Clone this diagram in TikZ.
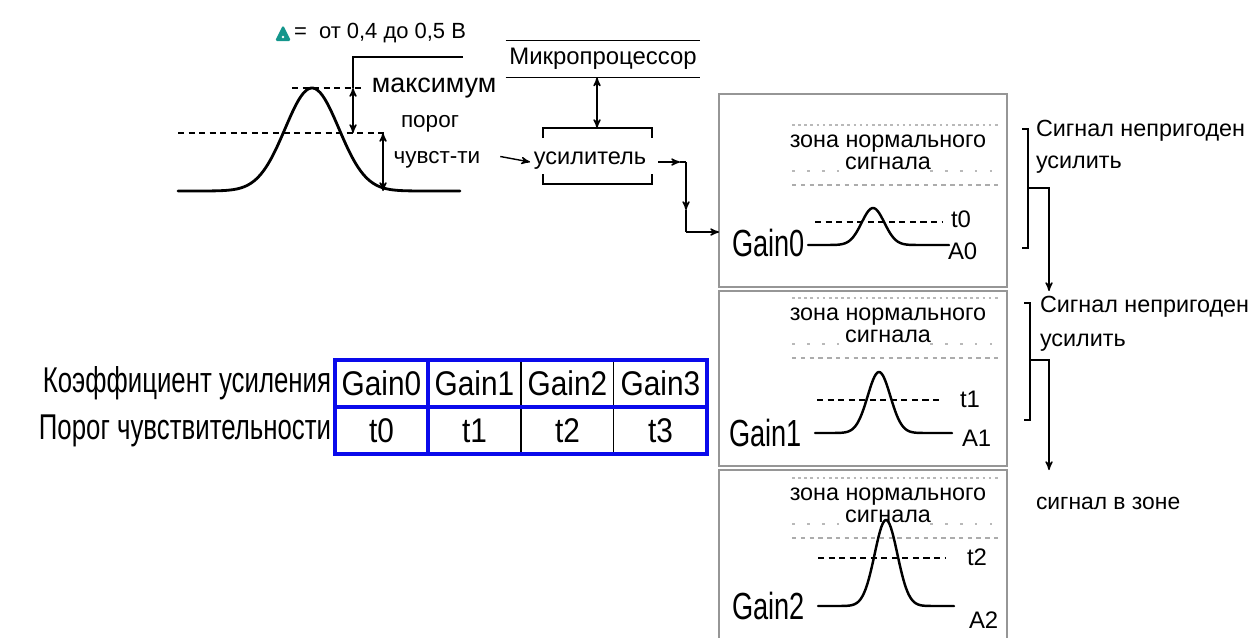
\documentclass[tikz,border=0pt]{standalone}
\usepackage{fontspec}
\setmainfont{Liberation Sans}
\newfontfamily\narrowfont{Liberation Sans}[FakeStretch=0.72]
\newfontfamily\cellfont{Liberation Sans}[FakeStretch=0.87]
\usetikzlibrary{arrows,positioning}

\definecolor{deltagreen}{RGB}{20,150,140}
\definecolor{framegray}{RGB}{150,150,150}
\definecolor{tabblue}{RGB}{10,10,235}
\newcommand\fsz[1]{\fontsize{#1}{1.15\dimexpr#1\relax}\selectfont}

\begin{document}
\begin{tikzpicture}[>=stealth',x=0.02cm,y=-0.02cm,
    txt/.style={inner sep=0pt,outer sep=0pt},
    wire/.style={line width=0.8pt},
    sig/.style={line width=1.6pt,line cap=round},
    thr/.style={line width=1pt,dash pattern=on 3.5pt off 2.5pt},
    zonetop/.style={gray!55,line width=1.1pt,dash pattern=on 1.5pt off 2pt},
    zonemid/.style={gray!55,line width=1.1pt,dash pattern=on 1.5pt off 7pt},
    zonebot/.style={gray!65,line width=1.4pt,dash pattern=on 2.5pt off 2.5pt},
    frame/.style={draw=framegray,line width=1.5pt,outer sep=0pt,anchor=north west},
    cell/.style={minimum width=1.86cm,minimum height=0.94cm,inner sep=0pt,outer sep=0pt,font=\cellfont\fsz{19.5pt}},
    tab/.style={draw=tabblue,line width=2pt},
    rowlbl/.style={txt,anchor=east,font=\narrowfont\fsz{20.4pt}},
    gainlbl/.style={txt,anchor=east,font=\narrowfont\fsz{21.5pt}},
    small/.style={txt,font=\fsz{13.3pt}}]

  \useasboundingbox (0,0) rectangle (1253,637);

  % delta note
  \fill[deltagreen,rounded corners=1pt] (275,41) -- (291,41) -- (283,25) -- cycle;
  \fill[white] (283,37) circle (0.8pt);
  \node[small,anchor=west,font=\fsz{12.5pt}] (D) at (294,33) {= \ от 0,4 до 0,5 В};

  % input signal
  \draw[sig] plot[domain=178:460,samples=120]
    (\x,{191-103*exp(-((\x-312)/38)*((\x-312)/38))});
  \draw[thr] (178,133) -- (385,133);
  \draw[thr] (292,88) -- (365,88);
  \coordinate (Mx) at (463,57);
  \draw[wire] (Mx) -- (353,57) -- (353,88);
  \draw[wire,<->] (353,88) -- (353,133);
  \draw[wire,<->] (383,133) -- (383,191);

  \node[txt,font=\fsz{15.3pt}] (max) at (434,88) {максимум};
  \node[txt,font=\fsz{12.8pt}] (por) at (430,124) {порог};
  \node[txt,font=\fsz{12.8pt}] (chu) at (437,160) {чувст-ти};

  % microprocessor and amplifier
  \node[txt,minimum width=3.9cm,minimum height=0.74cm,font=\fsz{13.6pt}] (M) at (603,59) {Микропроцессор};
  \draw[wire] (M.north west) -- (M.north east);
  \draw[wire] (M.south west) -- (M.south east);

  \node[txt,font=\fsz{13.4pt}] (U) at (590,161) {усилитель};
  \draw[wire] (543,138) -- (543,128) -- (652,128) -- (652,138);
  \draw[wire] (543,174) -- (543,184) -- (652,184) -- (652,174);
  \coordinate (Utop) at (597,128);
  \coordinate (Uin) at (530,162);
  \coordinate (Uout) at (658,162);

  \draw[wire,<->] (M.south -| Utop) -- (Utop);
  \draw[wire,->] (chu.east) ++(0.4cm,2pt) coordinate (Cin) (Cin) -- (Uin);

  % boxes
  \node[frame,minimum width=5.76cm,minimum height=3.86cm] (B0) at (719,94) {};
  \node[frame,minimum width=5.76cm,minimum height=3.5cm] (B1) at (719,291) {};
  \node[frame,minimum width=5.76cm,minimum height=3.7cm] (B2) at (719,470) {};

  \coordinate (O1) at (680,162);
  \coordinate (O2) at (686,162);
  \coordinate (O3) at (686,210);
  \coordinate (O4) at (686,232);
  \draw[wire,->] (Uout) -- (O1);
  \draw[wire] (O1) -- (O2);
  \draw[wire,->] (O2) -- (O3);
  \draw[wire] (O3) -- (O4);
  \draw[wire,->] (O4) -- (O4 -| B0.west);

  % normal zones
  \foreach \i/\y in {0/125,1/298,2/478} {
    \draw[zonetop] (792,\y) -- (1000,\y);
    \node[small] (Z\i) at (888,\y+19) {зона нормального};
    \node[small] (S\i) at (888,\y+38) {сигнала};
    \draw[zonemid] (792,\y+46) -- (846,\y+46);
    \draw[zonemid] (930,\y+46) -- (1000,\y+46);
    \draw[zonebot] (792,\y+60) -- (1000,\y+60);
  }

  % box 0
  \draw[thr] (815,222) -- (943,222);
  \draw[sig,line width=1.4pt] plot[domain=808:949,samples=100]
    (\x,{245-37*exp(-((\x-873)/16)*((\x-873)/16))});
  \node[gainlbl] (G0) at (805,243) {Gain0};
  \node[small,anchor=west,font=\fsz{13.6pt}] (T0) at (951,219) {t0};
  \node[small,anchor=west,font=\fsz{13.6pt}] (A0) at (948,251) {A0};

  % box 1
  \draw[thr] (817,400) -- (943,400);
  \draw[sig,line width=1.4pt] plot[domain=815:952,samples=100]
    (\x,{433-61*exp(-((\x-879)/16)*((\x-879)/16))});
  \node[gainlbl] (G1) at (802,433) {Gain1};
  \node[small,anchor=west,font=\fsz{13.6pt}] (T1) at (960,399) {t1};
  \node[small,anchor=west,font=\fsz{13.6pt}] (A1) at (962,438) {A1};

  % box 2
  \draw[thr] (818,558) -- (945,558);
  \draw[sig,line width=1.4pt] plot[domain=818:954,samples=100]
    (\x,{606-86*exp(-((\x-886)/16)*((\x-886)/16))});
  \node[gainlbl] (G2) at (805,606) {Gain2};
  \node[small,anchor=west,font=\fsz{13.6pt}] (T2) at (967,557) {t2};
  \node[small,anchor=west,font=\fsz{13.6pt}] (A2) at (969,620) {A2};

  % verdicts
  \draw[wire] (1022,129) -- (1028,129) -- (1028,248) -- (1022,248);
  \coordinate (K0) at (1028,188);
  \coordinate (K0b) at (1049,188);
  \draw[wire,->] (K0) -- (K0b) -- (K0b |- B1.north);
  \node[small,anchor=west] (V0) at (1036,131) {Сигнал непригоден};
  \node[small,anchor=west] (W0) at (1036,165) {усилить};

  \draw[wire] (1024,303) -- (1030,303) -- (1030,420) -- (1024,420);
  \coordinate (K1) at (1030,360);
  \coordinate (K1b) at (1049,360);
  \draw[wire,->] (K1) -- (K1b) -- (K1b |- B2.north);
  \node[small,anchor=west] (V1) at (1040,307) {Сигнал непригоден};
  \node[small,anchor=west] (W1) at (1040,343) {усилить};

  \node[small,anchor=west,font=\fsz{13pt}] (V2) at (1036,503) {сигнал в зоне};

  % gain table
  \node[cell] (g0) at (381.5,383.5) {Gain0};
  \node[cell] (g1) [right=0pt of g0] {Gain1};
  \node[cell] (g2) [right=0pt of g1] {Gain2};
  \node[cell] (g3) [right=0pt of g2] {Gain3};
  \node[cell] (t0) [below=0pt of g0] {t0};
  \node[cell] (t1) [right=0pt of t0] {t1};
  \node[cell] (t2) [right=0pt of t1] {t2};
  \node[cell] (t3) [right=0pt of t2] {t3};
  \node[rowlbl] (L0) [left=0.08cm of g0] {Коэффициент усиления};
  \node[rowlbl] (L1) [left=0.08cm of t0] {Порог чувствительности};

  \draw[line width=0.6pt] (g1.north east) -- (t1.south east);
  \draw[line width=0.6pt] (g2.north east) -- (t2.south east);
  \draw[tab] (g0.south west) -- (g3.south east);
  \draw[tab] (g0.north east) -- (t0.south east);
  \draw[tab] (g0.north west) rectangle (t3.south east);

\end{tikzpicture}
\end{document}
